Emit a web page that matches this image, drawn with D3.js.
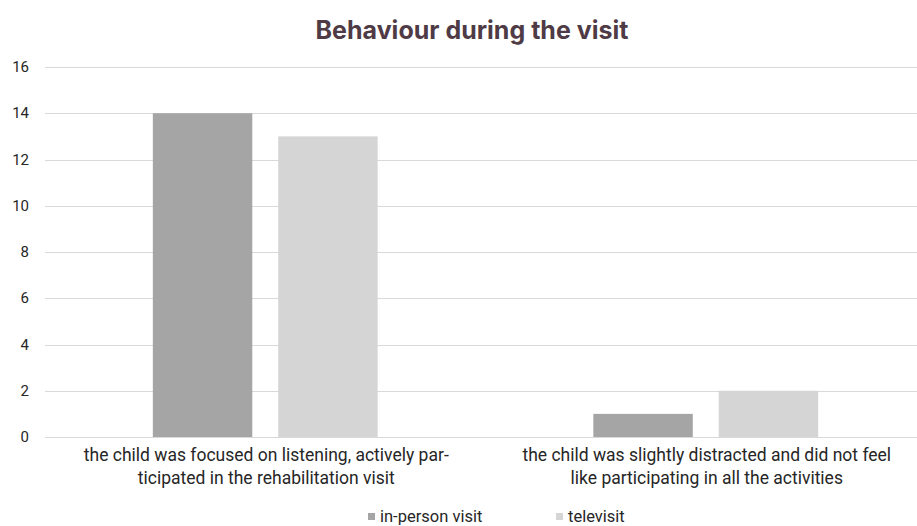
<!DOCTYPE html>
<html>
<head>
<meta charset="utf-8">
<script src="https://cdn.jsdelivr.net/npm/d3@7"></script>
<style>
  body { margin: 0; background: #fff; }
  svg { display: block; }
  .lbl { font-family: "Roboto", sans-serif; fill: #262626; }
</style>
</head>
<body>
<svg id="chart" width="917" height="526"></svg>
<script>
// data
const categories = [
  ["the child was focused on listening, actively par-", "ticipated in the rehabilitation visit"],
  ["the child was slightly distracted and did not feel", "like participating in all the activities"]
];
const seriesNames = ["in-person visit", "televisit"];
const inPerson = [14, 1];
const televisit = [13, 2];
const yTicks = [0, 2, 4, 6, 8, 10, 12, 14, 16];
const colors = ["#a5a5a5", "#d5d5d5"];

const svg = d3.select("#chart");
const W = 917, H = 526;
const m = { left: 45, right: -9, top: 67, bottom: 89 };

const x = d3.scaleBand().domain([0, 1]).range([m.left, W - m.right]);
const xi = d3.scaleBand().domain([0, 1]).range([0, x.bandwidth()]).paddingInner(0.207).paddingOuter(0.86);
const y = d3.scaleLinear().domain([0, 16]).range([H - m.bottom, m.top]);

// title
svg.append("text")
  .attr("x", 472).attr("y", 39)
  .attr("text-anchor", "middle")
  .style("font-family", "Inter, 'Open Sans', sans-serif")
  .style("font-weight", 700)
  .style("font-size", "25px")
  .style("fill", "#4f3b45")
  .text("Behaviour during the visit");

// grid
const grid = svg.append("g");
grid.selectAll("line").data(yTicks).join("line")
  .attr("x1", m.left).attr("x2", W)
  .attr("y1", d => Math.round(y(d)) + 0.5).attr("y2", d => Math.round(y(d)) + 0.5)
  .attr("stroke", "#d9d9d9").attr("stroke-width", 1);

// y axis labels
svg.append("g").selectAll("text").data(yTicks).join("text")
  .attr("class", "lbl")
  .attr("x", 29).attr("y", d => y(d) + 5)
  .attr("text-anchor", "end")
  .style("font-size", "15px")
  .text(d => d);

// bars
const series = [inPerson, televisit];
series.forEach((vals, s) => {
  svg.append("g").selectAll("rect").data(vals).join("rect")
    .attr("x", (d, i) => x(i) + xi(s))
    .attr("width", xi.bandwidth())
    .attr("y", d => y(d))
    .attr("height", d => y(0) - y(d))
    .attr("fill", colors[s]);
});

// category labels
categories.forEach((lines, i) => {
  const t = svg.append("text")
    .attr("class", "lbl")
    .attr("text-anchor", "middle")
    .style("font-size", "17.5px");
  lines.forEach((ln, k) => {
    t.append("tspan")
      .attr("x", x(i) + x.bandwidth() / 2 + 1)
      .attr("y", 461 + k * 23)
      .text(ln);
  });
});

// legend
const legendX = [368, 556];
seriesNames.forEach((name, s) => {
  svg.append("rect")
    .attr("x", legendX[s]).attr("y", 513)
    .attr("width", 7).attr("height", 7)
    .attr("fill", colors[s]);
  svg.append("text")
    .attr("class", "lbl")
    .attr("x", legendX[s] + 12).attr("y", 522)
    .style("font-size", "16.5px")
    .text(name);
});
</script>
</body>
</html>
